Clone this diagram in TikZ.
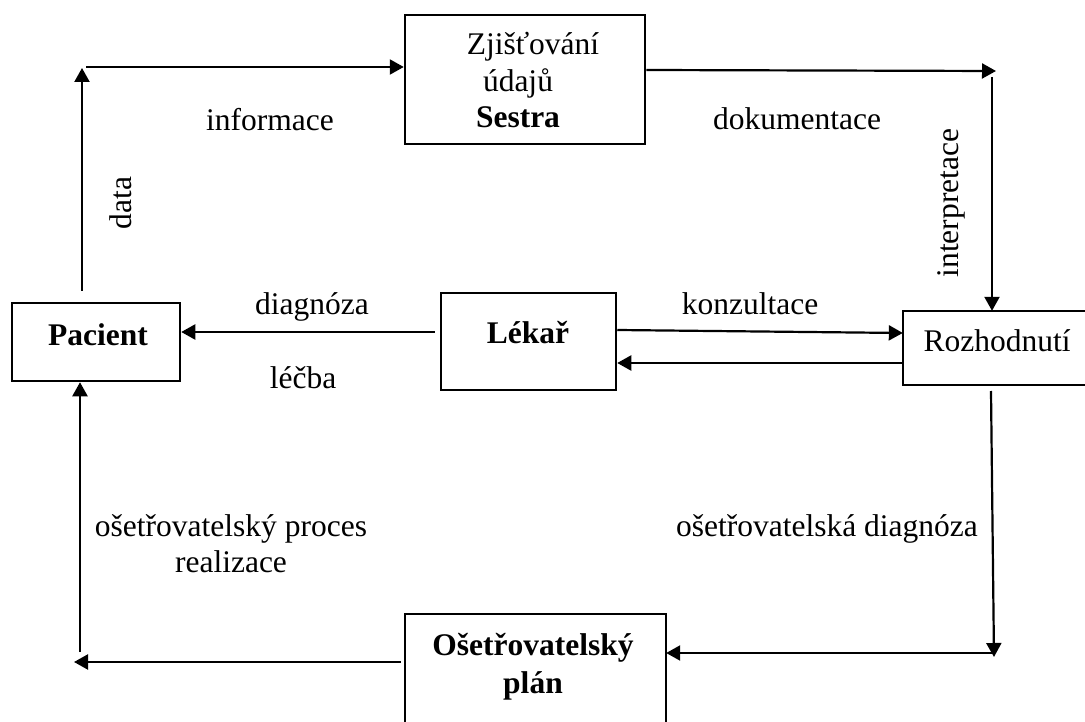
\documentclass[tikz,border=0pt]{standalone}
\usepackage{fontspec}
\setmainfont{Liberation Serif}
\usetikzlibrary{arrows.meta,calc}
\begin{document}
\begin{tikzpicture}[x=1pt,y=-1pt,
  every node/.style={font=\fontsize{31.5}{37}\selectfont},
  box/.style={draw,line width=2.5pt,rectangle,inner sep=0pt},
  lbl/.style={anchor=base,inner sep=0pt},
  arr/.style={line width=2.2pt,-{Triangle[length=14pt,width=15pt]}},
  ln/.style={line width=2.5pt}]
\useasboundingbox (0,0) rectangle (1085,722);
% boxes
\node[box,minimum width=240pt,minimum height=129pt] (sestra) at (525,79.5) {};
\node[box,minimum width=168pt,minimum height=78pt] (pacient) at (96,342) {};
\node[box,minimum width=175pt,minimum height=97pt] (lekar) at (528.5,341.5) {};
\node[inner sep=0pt,minimum width=182pt,minimum height=74pt] (rozh) at (994,348) {};
\draw[ln] (rozh.north east) -- (rozh.north west) -- (rozh.south west) -- (rozh.south east);
\node[inner sep=0pt,minimum width=261pt,minimum height=108pt] (plan) at (535.5,668) {};
\draw[ln] (plan.south west) -- (plan.north west) -- (plan.north east) -- (plan.south east);
% box texts
\node[lbl] (t1) at (533,55) {Zjišťování};
\node[lbl] (t2) at (518,92) {údajů};
\node[lbl,font=\fontsize{31.5}{37}\selectfont\bfseries] (t3) at (518,128) {Sestra};
\node[lbl,font=\fontsize{31.5}{37}\selectfont\bfseries] (tp) at (98,345) {Pacient};
\node[lbl,font=\fontsize{31.5}{37}\selectfont\bfseries] (tl) at (528,343) {Lékař};
\node[lbl] (tr) at (997,352) {Rozhodnutí};
\node[lbl,font=\fontsize{31.5}{37}\selectfont\bfseries] (to1) at (533,655) {Ošetřovatelský};
\node[lbl,font=\fontsize{31.5}{37}\selectfont\bfseries] (to2) at (533,693) {plán};
% free ends
\coordinate (dataS) at (82,291);
\coordinate (dataE) at (82,68);
\coordinate (infS) at (86,67);
\coordinate (dokE) at (996,71);
\coordinate (intS) at (992,77);
\coordinate (odS) at (991,391);
\coordinate (odE) at (994,657);
\coordinate (pS) at (993,653);
\coordinate (reE) at (74,662);
\coordinate (reS) at (80,652);
% connectors
\draw[arr] (dataS) -- (dataE);
\draw[arr] (infS) -- (sestra.west |- infS);
\draw[arr] (sestra.east |- 0,70) -- (dokE);
\draw[arr] (intS) -- (rozh.north -| intS);
\draw[arr] ([xshift=-5pt]lekar.west |- 0,332) -- (pacient.east |- 0,332);
\draw[arr] (lekar.east |- 0,330) -- (rozh.west |- 0,333);
\draw[arr] (rozh.west |- 0,363) -- (lekar.east |- 0,363);
\draw[arr] (odS) -- (odE);
\draw[arr] (pS) -- (plan.east |- pS);
\draw[arr] ([xshift=-4pt]plan.west |- reE) -- (reE);
\draw[arr] (reS) -- (pacient.south -| reS);
% labels
\node[lbl] (linf) at (270,131) {informace};
\node[lbl,rotate=90,anchor=base] (ldata) at (131,203) {data};
\node[lbl] (ldok) at (797,130) {dokumentace};
\node[lbl,rotate=90,anchor=base] (lint) at (958,203) {interpretace};
\node[lbl] (ldiag) at (312,315) {diagnóza};
\node[lbl] (llec) at (303,388) {léčba};
\node[lbl] (lkon) at (750,315) {konzultace};
\node[lbl] (lod) at (827,536) {ošetřovatelská diagnóza};
\node[lbl] (lop) at (231,536) {ošetřovatelský proces};
\node[lbl] (lre) at (231,572) {realizace};
\end{tikzpicture}
\end{document}
